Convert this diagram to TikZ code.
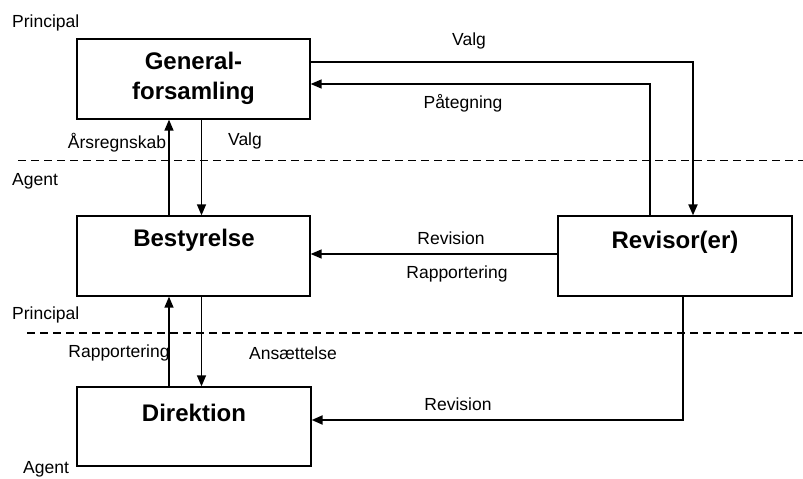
\documentclass[tikz,border=0pt]{standalone}
\usepackage{fontspec}
\setmainfont{Liberation Sans}
\usetikzlibrary{arrows.meta}
\begin{document}
\begin{tikzpicture}[x=1bp,y=-1bp,
  box/.style={draw,line width=1.3bp,minimum width=233bp,minimum height=80bp,inner sep=0pt},
  title/.style={font=\fontsize{24bp}{30bp}\selectfont\bfseries,align=center,inner sep=0pt},
  lbl/.style={font=\fontsize{17.5bp}{21bp}\selectfont,inner sep=0pt},
  arr/.style={line width=1.4bp,-{Triangle[length=11bp,width=9bp]}},
  arrthick/.style={line width=2bp,-{Triangle[length=11bp,width=9bp]}},
  sep/.style={line width=1.3bp,dash pattern=on 8bp off 5bp}]
\useasboundingbox (0,0) rectangle (803,479);
% boxes
\node[box] (gf) at (193.5,79) {};
\node[box] (be) at (193.5,256) {};
\node[box,minimum width=234bp] (re) at (675,256) {};
\node[box,minimum width=234bp,minimum height=79bp] (di) at (194,426.5) {};
\node[title] (gft) at (193.5,78) {General-\\forsamling};
\node[title] (bet) at (194,240) {Bestyrelse};
\node[title] (ret) at (675,242) {Revisor(er)};
\node[title] (dit) at (194,413) {Direktion};
% separator lines
\coordinate (s1a) at (18,160.7);
\coordinate (s1b) at (803,160.7);
\coordinate (s2a) at (27,333);
\coordinate (s2b) at (803,333);
\draw[sep] (s1a) -- (s1b);
\draw[sep] (s2a) -- (s2b);
% role labels
\node[lbl,anchor=west] (p1l) at (12,23) {Principal};
\node[lbl,anchor=west] (a1l) at (12,181) {Agent};
\node[lbl,anchor=west] (p2l) at (12,315) {Principal};
\node[lbl,anchor=west] (a2l) at (23,469) {Agent};
% helper coordinates
\coordinate (v1) at (693,62);
\coordinate (pt) at (650,84);
\coordinate (xa) at (169,0);
\coordinate (xb) at (201.5,0);
\coordinate (rv) at (0,254);
\coordinate (r1) at (683,420);
% connectors
\draw[arrthick] (gf.east |- v1) -| (re.north -| v1);
\draw[arr] (re.north -| pt) |- (gf.east |- pt);
\draw[arr] (be.north -| xa) -- (gf.south -| xa);
\draw[arr] (gf.south -| xb) -- (be.north -| xb);
\draw[arr] (re.west |- rv) -- (be.east |- rv);
\draw[arr] (di.north -| xa) -- (be.south -| xa);
\draw[arr] (be.south -| xb) -- (di.north -| xb);
\draw[arrthick] (re.south -| r1) |- (di.east |- r1);
% connector labels
\node[lbl] (l1) at (469,41) {Valg};
\node[lbl] (l2) at (463,103) {Påtegning};
\node[lbl] (l3) at (117,143) {Årsregnskab};
\node[lbl] (l4) at (245,141) {Valg};
\node[lbl] (l5) at (451,238) {Revision};
\node[lbl] (l6) at (457,274) {Rapportering};
\node[lbl] (l7) at (119,353) {Rapportering};
\node[lbl] (l8) at (293,353) {Ansættelse};
\node[lbl] (l9) at (458,404) {Revision};
\end{tikzpicture}
\end{document}
